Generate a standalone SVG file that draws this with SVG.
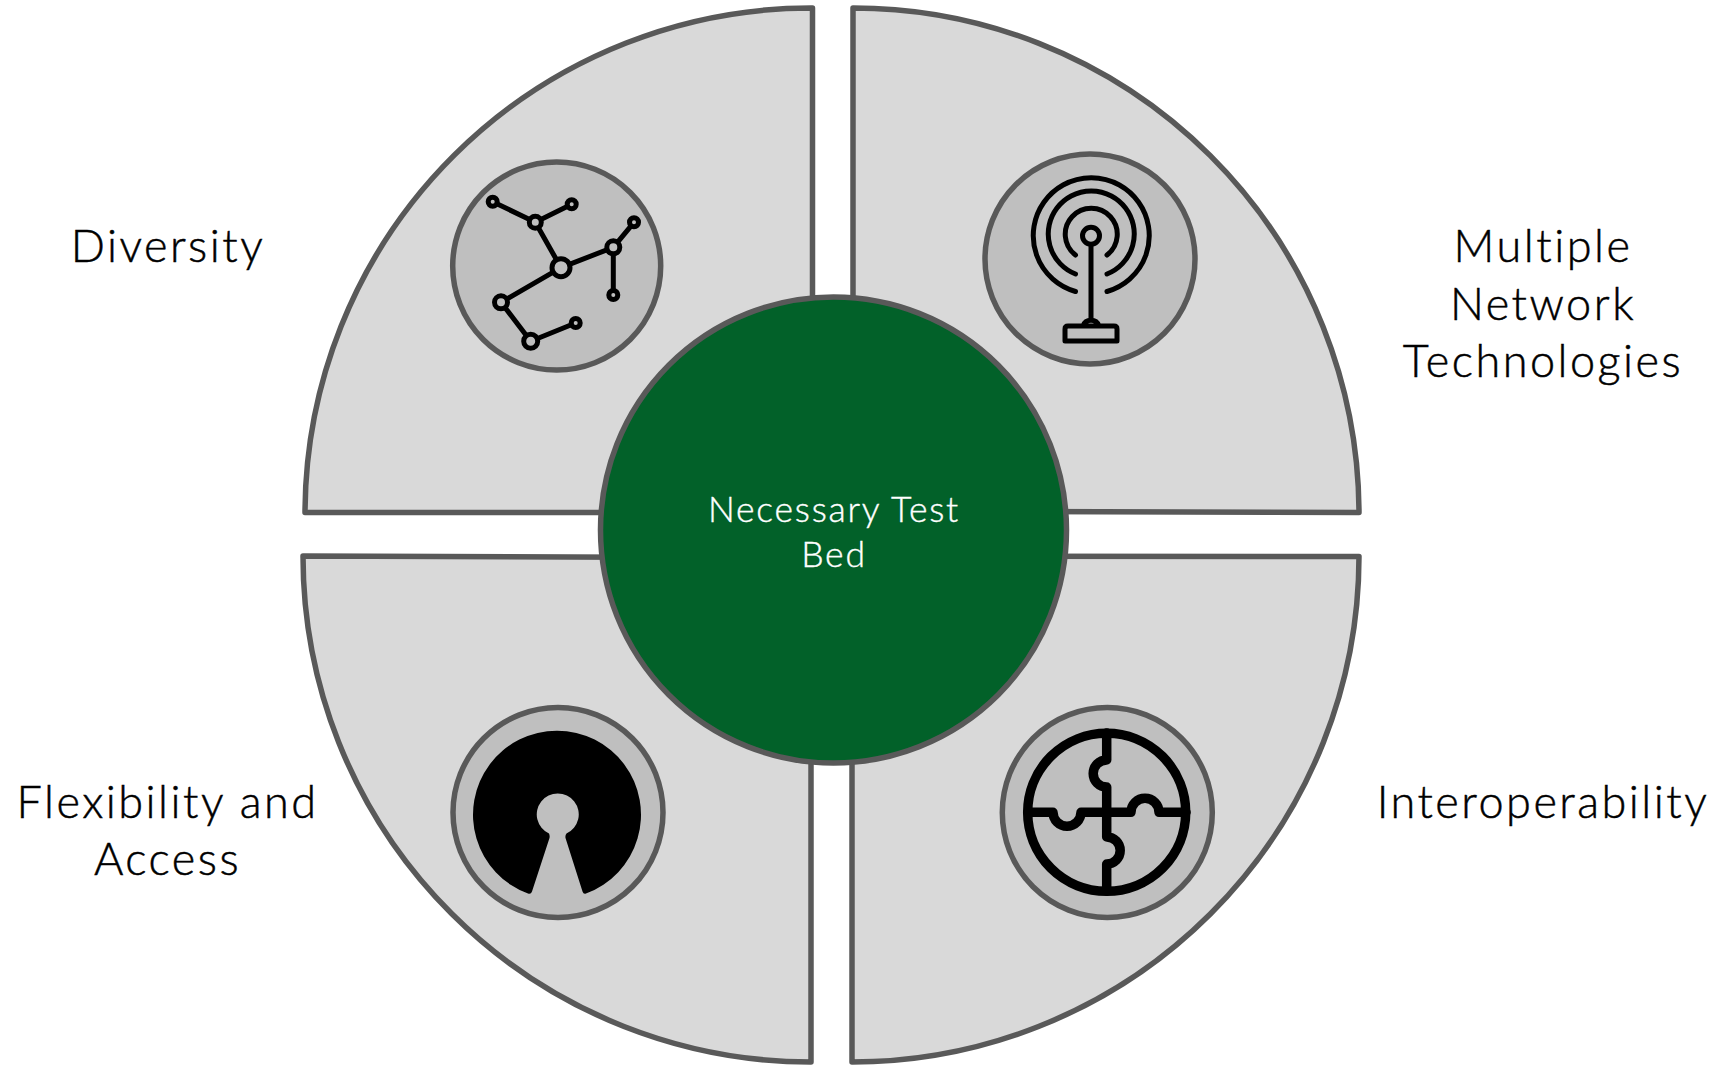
<svg xmlns="http://www.w3.org/2000/svg" width="1719" height="1065" viewBox="0 0 1719 1065">
<style>
.q{fill:#d9d9d9;stroke:#595959;stroke-width:5.500;stroke-linejoin:round}
.d{fill:#bfbfbf;stroke:#595959;stroke-width:5.500}
.l{font-family:"Lato",sans-serif;font-size:45px;font-weight:300;letter-spacing:2.500px;fill:#000;stroke:#000;stroke-width:.5px;text-anchor:middle}
.c{font-family:"Lato",sans-serif;font-size:35.500px;font-weight:300;letter-spacing:1.800px;fill:#fff;stroke:#fff;stroke-width:.4px;text-anchor:middle}
.k{fill:none;stroke:#000;stroke-width:5;stroke-linecap:round;stroke-linejoin:round}
.n{fill:#bfbfbf;stroke:#000;stroke-width:5}
</style>
<rect width="1719" height="1065" fill="#fff"/>
<g id="quadrant-diversity"><path class="q" d="M305 512.500A506 506 0 0 1 812.500 8V512.500Z"/></g>
<g id="quadrant-networks"><path class="q" d="M853 8A506 506 0 0 1 1359 512.500L853 511Z"/></g>
<g id="quadrant-flexibility"><path class="q" d="M303 556L811 558V1062A508 506 0 0 1 303 556Z"/></g>
<g id="quadrant-interop"><path class="q" d="M1359 556.500A507 506 0 0 1 852 1062V556Z"/></g>
<g id="connectors"></g>
<g id="icon-diversity">
<circle class="d" cx="556.700" cy="266" r="104"/>
<path class="k" d="M492.700 201.700L535.300 222.300L571.700 204.300M535.300 222.300L561 267.700L613.300 247.300L634 222.300M613.300 247.300V295M561 267.700L501 302.300L530.700 341.300L575.700 323"/>
<circle class="n" cx="492.700" cy="201.700" r="4.500"/><circle class="n" cx="571.700" cy="204.300" r="4.500"/><circle class="n" cx="535.300" cy="222.300" r="6"/><circle class="n" cx="561" cy="267.700" r="9"/><circle class="n" cx="613.300" cy="247.300" r="6.500"/><circle class="n" cx="634" cy="222.300" r="4.500"/><circle class="n" cx="613.300" cy="295" r="4.500"/><circle class="n" cx="501" cy="302.300" r="6.500"/><circle class="n" cx="530.700" cy="341.300" r="7"/><circle class="n" cx="575.700" cy="323" r="4.500"/>
</g>
<g id="icon-networks">
<circle class="d" cx="1090" cy="259" r="105"/>
<circle class="k" cx="1091" cy="235.700" r="8.500"/>
<path class="k" d="M1091 245V318M1075.500 291.500A58 58 0 1 1 1107 291.500M1075.500 274A43 43 0 1 1 1107 274M1075.500 255A26 26 0 1 1 1107 255"/>
<path class="k" d="M1083 326A8.500 8.500 0 0 1 1099 326M1068 326H1114Q1117 326 1117 329V341H1065V329Q1065 326 1068 326Z"/>
</g>
<g id="icon-flexibility">
<circle class="d" cx="558" cy="812.500" r="105"/>
<path d="M528 893.500A84 84 0 1 1 586 893.500Q583.500 894.500 582.500 891.500L565.500 838Q565 835.500 566.500 833.500A21 21 0 1 0 549 833.500Q550 835.500 549.500 838L532 891.500Q531 894.500 528 893.500Z" fill="#000"/>
</g>
<g id="icon-interop">
<circle class="d" cx="1107.300" cy="812.500" r="105"/>
<circle cx="1106.700" cy="812.300" r="79" fill="none" stroke="#000" stroke-width="9.500"/>
<path d="M1106.700 733V760A13.500 13.500 0 0 0 1106.700 787V837A13.500 13.500 0 0 1 1106.700 864V891M1028 812.300H1053A14 14 0 0 0 1081 812.300H1131A14 14 0 0 1 1159 812.300H1186" fill="none" stroke="#000" stroke-width="9.500" stroke-linecap="round" stroke-linejoin="round"/>
</g>
<g id="hub"><circle cx="833.500" cy="530" r="233" fill="#026129" stroke="#595959" stroke-width="5.500"/>
<text class="c" x="834" y="521.500">Necessary Test</text><text class="c" x="834" y="566.500">Bed</text></g>
<g id="label-diversity"><text class="l" x="168" y="262">Diversity</text></g>
<g id="label-networks"><text class="l" x="1543" y="262">Multiple</text><text class="l" x="1543" y="319.500">Network</text><text class="l" x="1543" y="377">Technologies</text></g>
<g id="label-flexibility"><text class="l" x="167.500" y="818">Flexibility and</text><text class="l" x="167.500" y="875">Access</text></g>
<g id="label-interop"><text class="l" x="1543" y="818">Interoperability</text></g>
</svg>
